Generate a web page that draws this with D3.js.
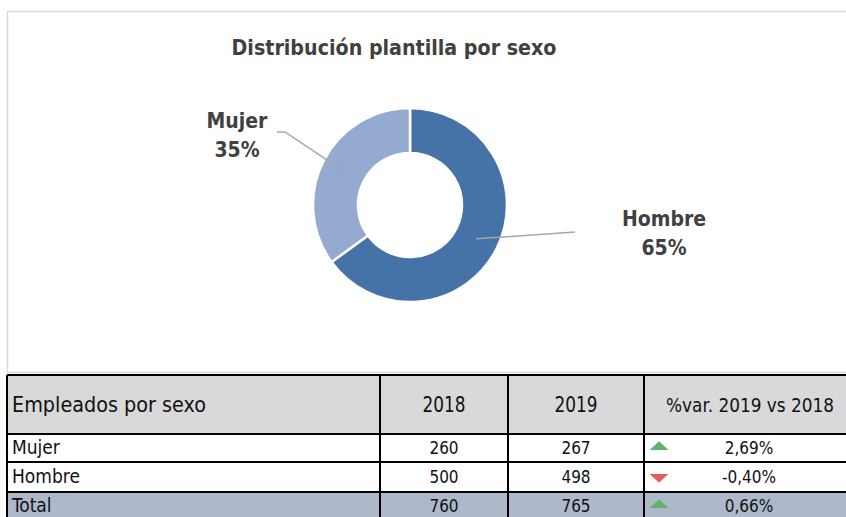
<!DOCTYPE html>
<html>
<head>
<meta charset="utf-8">
<script src="https://cdn.jsdelivr.net/npm/d3@7"></script>
<style>
  html, body { margin: 0; padding: 0; background: #fff; overflow: hidden; }
  .chart-title, .slice-label { font-family: "DejaVu Sans Condensed", "DejaVu Sans", sans-serif; font-stretch: condensed; font-weight: bold; fill: #404040; }
  .cell-text { font-family: "DejaVu Sans Condensed", "DejaVu Sans", sans-serif; font-stretch: condensed; fill: #111; }
</style>
</head>
<body>
<div id="chart"></div>
<script>
// --- data ---
const categories = ['Hombre', 'Mujer'];
const shares = [65, 35];

const title = 'Distribución plantilla por sexo';

const tableHeader = ['Empleados por sexo', '2018', '2019', '%var. 2019 vs 2018'];
const rowLabels = ['Mujer', 'Hombre'];
const values2018 = [260, 500];
const values2019 = [267, 498];
const totalLabel = 'Total';

// --- layout ---
const width = 846, height = 517;
const center = { x: 410, y: 205 };
const outerR = 97, innerR = 52;
const colors = { Hombre: '#4673a7', Mujer: '#94aad1' };
// label anchor + leader elbow, relative to donut center
const labelLayout = {
    Hombre: { tx: 254, ty: 21, elbow: null, end: [165, 27] },
    Mujer:  { tx: -173, ty: -77, elbow: [-125, -73], end: [-133, -73] }
};

const cols = [7, 380, 508, 644, 846];
const rows = [375, 434, 462, 492, 520];

const svg = d3.select('#chart')
    .append('svg')
    .attr('width', width)
    .attr('height', height);

// chart frame
svg.append('rect')
    .attr('x', 7.5).attr('y', 11.5)
    .attr('width', width + 20).attr('height', 361)
    .attr('fill', 'none')
    .attr('stroke', '#d9d9d9')
    .attr('stroke-width', 1.5);

svg.append('text')
    .attr('class', 'chart-title')
    .attr('x', 394).attr('y', 55)
    .attr('text-anchor', 'middle')
    .attr('font-size', 22)
    .attr('textLength', 325)
    .attr('lengthAdjust', 'spacingAndGlyphs')
    .text(title);

// donut
const pie = d3.pie().sort(null).value(d => d.value);
const arcs = pie(categories.map((c, i) => ({ name: c, value: shares[i] })));
const arc = d3.arc().innerRadius(innerR).outerRadius(outerR);

const donut = svg.append('g')
    .attr('class', 'donut')
    .attr('transform', `translate(${center.x},${center.y})`);

donut.selectAll('path.slice')
    .data(arcs)
    .enter().append('path')
    .attr('class', 'slice')
    .attr('d', arc)
    .attr('fill', d => colors[d.data.name])
    .attr('stroke', '#fff')
    .attr('stroke-width', 2.5);

// leader lines
donut.selectAll('polyline.leader')
    .data(arcs)
    .enter().append('polyline')
    .attr('class', 'leader')
    .attr('fill', 'none')
    .attr('stroke', '#a6a6a6')
    .attr('stroke-width', 1.5)
    .attr('points', d => {
        const c = arc.centroid(d);
        const l = labelLayout[d.data.name];
        const pts = [c];
        if (l.elbow) pts.push(l.elbow);
        pts.push(l.end);
        return pts.map(p => p.join(',')).join(' ');
    });

const labels = donut.selectAll('text.slice-label')
    .data(arcs)
    .enter().append('text')
    .attr('class', 'slice-label')
    .attr('text-anchor', 'middle')
    .attr('font-size', 21);

labels.append('tspan')
    .attr('x', d => labelLayout[d.data.name].tx)
    .attr('y', d => labelLayout[d.data.name].ty)
    .text(d => d.data.name);
labels.append('tspan')
    .attr('x', d => labelLayout[d.data.name].tx)
    .attr('y', d => labelLayout[d.data.name].ty + 29)
    .text(d => d3.format('.0f')(d.data.value) + '%');

// --- table ---
const fmtPct = v => v.toFixed(2).replace('.', ',') + '%';
const tableRows = rowLabels.map((r, i) => ({
    label: r, a: values2018[i], b: values2019[i], fill: '#ffffff'
}));
tableRows.push({
    label: totalLabel, a: d3.sum(values2018), b: d3.sum(values2019), fill: '#adb9ca'
});
tableRows.forEach(r => { r.change = (r.b / r.a - 1) * 100; });

const table = svg.append('g').attr('class', 'table');

// header row
table.append('rect')
    .attr('x', cols[0]).attr('y', rows[0])
    .attr('width', cols[4] - cols[0]).attr('height', rows[1] - rows[0])
    .attr('fill', '#d9d9d9');

table.selectAll('rect.row')
    .data(tableRows)
    .enter().append('rect')
    .attr('class', 'row')
    .attr('x', cols[0]).attr('y', (d, i) => rows[i + 1])
    .attr('width', cols[4] - cols[0]).attr('height', (d, i) => rows[i + 2] - rows[i + 1])
    .attr('fill', d => d.fill);

const headerWidths = [194, 43, 43, 168];
const headerY = (rows[0] + rows[1]) / 2 + 7;
tableHeader.forEach((h, j) => {
    const first = j === 0;
    table.append('text')
        .attr('class', 'cell-text')
        .attr('x', first ? cols[0] + 5 : (j === 3 ? 750 : (cols[j] + cols[j + 1]) / 2))
        .attr('y', headerY)
        .attr('text-anchor', first ? 'start' : 'middle')
        .attr('font-size', j === 3 ? 19 : 21)
        .attr('textLength', headerWidths[j])
        .attr('lengthAdjust', 'spacingAndGlyphs')
        .text(h);
});

const rowG = table.selectAll('g.trow')
    .data(tableRows)
    .enter().append('g')
    .attr('class', 'trow')
    .attr('transform', (d, i) => `translate(0,${(rows[i + 1] + rows[i + 2]) / 2})`);

rowG.append('text')
    .attr('class', 'cell-text')
    .attr('x', cols[0] + 5).attr('y', 6)
    .attr('font-size', 19)
    .text(d => d.label);

rowG.append('text')
    .attr('class', 'cell-text')
    .attr('x', (cols[1] + cols[2]) / 2).attr('y', 6)
    .attr('text-anchor', 'middle')
    .attr('font-size', 17)
    .text(d => d.a);

rowG.append('text')
    .attr('class', 'cell-text')
    .attr('x', (cols[2] + cols[3]) / 2).attr('y', 6)
    .attr('text-anchor', 'middle')
    .attr('font-size', 17)
    .text(d => d.b);

rowG.append('text')
    .attr('class', 'cell-text')
    .attr('x', 749).attr('y', 6)
    .attr('text-anchor', 'middle')
    .attr('font-size', 17)
    .text(d => fmtPct(d.change));

// icon-set triangles
const tri = d3.symbol().type(d3.symbolTriangle).size(60);
rowG.append('path')
    .attr('d', tri)
    .attr('transform', d => `translate(659,${d.change >= 0 ? -1 : 0}) scale(1.6,0.85) rotate(${d.change >= 0 ? 0 : 180})`)
    .attr('fill', d => d.change >= 0 ? '#5fb46a' : '#e35d5d');

// grid lines
const gridColor = '#000';
rows.slice(0, 4).forEach(y => {
    table.append('line')
        .attr('x1', cols[0]).attr('x2', width)
        .attr('y1', y).attr('y2', y)
        .attr('stroke', gridColor).attr('stroke-width', 2);
});
cols.slice(0, 4).forEach(x => {
    table.append('line')
        .attr('x1', x).attr('x2', x)
        .attr('y1', rows[0]).attr('y2', height)
        .attr('stroke', gridColor).attr('stroke-width', 2);
});
</script>
</body>
</html>
